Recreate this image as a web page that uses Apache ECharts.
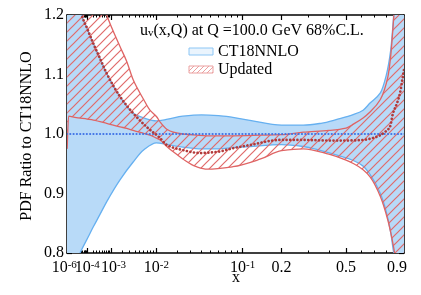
<!DOCTYPE html>
<html><head><meta charset="utf-8">
<script src="https://cdn.jsdelivr.net/npm/echarts@6/dist/echarts.min.js"></script>
<style>html,body{margin:0;padding:0;background:#fff}#c{width:421px;height:295px}</style>
</head><body><div id="c"></div>
<script>
// x axis uses a power scale: t = x^P
const P = 0.28;
const xAxisMin = 5.1e-7, xAxisMax = 0.968;
const xTickValues = [1e-6, 1e-4, 1e-3, 1e-2, 1e-1, 0.2, 0.5, 0.9];
const xTickLabels = ['10^-6', '10^-4', '10^-3', '10^-2', '10^-1', '0.2', '0.5', '0.9'];
const xExtraMajor = [1e-5];
const xMinorTop = [0.3, 0.4, 0.6, 0.7, 0.8];
const yMin = 0.8, yMax = 1.2, yInterval = 0.1;

// CT18NNLO band
const ctX     = [5e-7, 3e-6, 1e-5, 3.2e-5, 4.3e-5, 1e-4, 2.1e-4, 4e-4, 7.2e-4, 1.8e-3, 3.7e-3, 6e-3, 0.01, 0.015, 0.024, 0.04, 0.06, 0.082, 0.115, 0.2, 0.28, 0.36, 0.45, 0.55, 0.615, 0.667, 0.75, 0.8, 0.84, 0.86, 0.88, 0.92, 0.97, 1.0];
const ctUpper = [1.6, 1.45, 1.3, 1.22, 1.2, 1.177, 1.152, 1.128, 1.102, 1.063, 1.035, 1.027, 1.022, 1.025, 1.03, 1.032, 1.031, 1.028, 1.023, 1.015, 1.015, 1.018, 1.025, 1.033, 1.04, 1.052, 1.069, 1.098, 1.14, 1.18, 1.23, 1.35, 1.5, 1.6];
const ctLower = [0.6, 0.68, 0.74, 0.8, 0.806, 0.824, 0.844, 0.864, 0.886, 0.923, 0.953, 0.973, 0.985, 0.982, 0.978, 0.975, 0.975, 0.977, 0.979, 0.982, 0.979, 0.972, 0.964, 0.955, 0.946, 0.932, 0.9, 0.87, 0.835, 0.81, 0.785, 0.7, 0.6, 0.5];
const ctCentralX = [5e-7, 1.0];
const ctCentral  = [1.0, 1.0];

// Updated band
const upX     = [5.5e-7, 1.2e-6, 1e-5, 1e-4, 2.1e-4, 7.2e-4, 1.8e-3, 2.65e-3, 3.7e-3, 6e-3, 0.0078, 0.0101, 0.0115, 0.0145, 0.018, 0.024, 0.035, 0.046, 0.082, 0.14, 0.2, 0.28, 0.4, 0.5, 0.55, 0.615, 0.667, 0.75, 0.815, 0.84, 0.862, 0.88, 0.92, 0.97, 1.0];
const upUpper = [1.8, 1.7, 1.5, 1.33, 1.27, 1.2, 1.147, 1.122, 1.091, 1.058, 1.04, 1.029, 1.02, 1.008, 1.003, 1.0, 0.998, 0.997, 0.997, 0.998, 0.999, 1.003, 1.006, 1.01, 1.017, 1.027, 1.037, 1.058, 1.096, 1.13, 1.18, 1.23, 1.4, 1.6, 1.7];
const upLower = [0.975, 1.03, 1.028, 1.025, 1.0235, 1.018, 1.012, 1.0095, 1.006, 1.001, 0.998, 0.993, 0.99, 0.979, 0.97, 0.958, 0.945, 0.941, 0.945, 0.958, 0.972, 0.975, 0.966, 0.956, 0.95, 0.94, 0.928, 0.895, 0.855, 0.835, 0.815, 0.795, 0.7, 0.6, 0.5];
const upCentralX = [5.5e-7, 1e-5, 4.3e-5, 1e-4, 2.1e-4, 4e-4, 7.2e-4, 1.8e-3, 3.7e-3, 6.8e-3, 0.0115, 0.0145, 0.024, 0.0385, 0.058, 0.082, 0.115, 0.195, 0.28, 0.4, 0.5, 0.615, 0.7, 0.75, 0.8, 0.834, 0.862, 0.9, 0.93, 0.95, 0.97];
const upCentral  = [1.45, 1.27, 1.2, 1.177, 1.152, 1.128, 1.102, 1.063, 1.035, 1.012, 0.993, 0.9815, 0.973, 0.968, 0.970, 0.976, 0.9815, 0.99, 0.99, 0.989, 0.989, 0.99, 0.994, 0.998, 1.005, 1.012, 1.035, 1.052, 1.07, 1.09, 1.11];

const T = x => Math.pow(x, P);

const xMinor = [];
for (let k = -6; k <= -2; k++) for (let m = 2; m <= 9; m++) xMinor.push(m * Math.pow(10, k));
xMinorTop.forEach(v => xMinor.push(v));

const majorT = xTickValues.concat(xExtraMajor).map(T);
const labelT = xTickValues.slice(1).map(T);   // first label drawn separately
const minorT = xMinor.map(T);

const FONT = 'Liberation Serif';
const BLUE_FILL = '#b8daf8', BLUE_EDGE = '#66b0f0', BLUE_DOT = '#3f72e6';
const RED_EDGE = '#df6464', RED_HATCH = '#e06a6a', RED_DOT = '#b23a3a';

function hatch(color, s, w) {
  const c = document.createElement('canvas');
  c.width = s; c.height = s;
  const g = c.getContext('2d');
  g.strokeStyle = color; g.lineWidth = w;
  g.beginPath();
  g.moveTo(-1, s + 1); g.lineTo(s + 1, -1);
  g.moveTo(-1, 1); g.lineTo(1, -1);
  g.moveTo(s - 1, s + 1); g.lineTo(s + 1, s - 1);
  g.stroke();
  return c;
}
const hatchCanvas = hatch(RED_HATCH, 9, 1.2);
const hatchLegend = hatch('#eba0a0', 5, 1);

// monotone cubic (Fritsch-Butland) segments through pixel points
function segments(pts) {
  const n = pts.length, dx = [], m = [], tg = [];
  for (let i = 0; i < n - 1; i++) {
    dx[i] = pts[i + 1][0] - pts[i][0];
    m[i] = (pts[i + 1][1] - pts[i][1]) / dx[i];
  }
  tg[0] = m[0]; tg[n - 1] = m[n - 2];
  for (let i = 1; i < n - 1; i++) {
    if (m[i - 1] * m[i] <= 0) tg[i] = 0;
    else tg[i] = 3 * (dx[i - 1] + dx[i]) / ((2 * dx[i] + dx[i - 1]) / m[i - 1] + (dx[i] + 2 * dx[i - 1]) / m[i]);
  }
  const out = [];
  for (let i = 0; i < n - 1; i++) {
    const h = dx[i] / 3;
    out.push([pts[i], [pts[i][0] + h, pts[i][1] + tg[i] * h], [pts[i + 1][0] - h, pts[i + 1][1] - tg[i + 1] * h], pts[i + 1]]);
  }
  return out;
}
const f = v => v.toFixed(2);
function curvePath(pts) {
  const s = segments(pts);
  let d = 'M' + f(pts[0][0]) + ' ' + f(pts[0][1]);
  s.forEach(q => { d += 'C' + f(q[1][0]) + ' ' + f(q[1][1]) + ' ' + f(q[2][0]) + ' ' + f(q[2][1]) + ' ' + f(q[3][0]) + ' ' + f(q[3][1]); });
  return d;
}
function bandPath(upPts, loPts) {
  let d = curvePath(upPts);
  const s = segments(loPts);
  const last = loPts[loPts.length - 1];
  d += 'L' + f(last[0]) + ' ' + f(last[1]);
  for (let i = s.length - 1; i >= 0; i--) {
    const q = s[i];
    d += 'C' + f(q[2][0]) + ' ' + f(q[2][1]) + ' ' + f(q[1][0]) + ' ' + f(q[1][1]) + ' ' + f(q[0][0]) + ' ' + f(q[0][1]);
  }
  return d + 'Z';
}

function clipRect(params) {
  const c = params.coordSys;
  return { type: 'rect', shape: { x: c.x, y: c.y, width: c.width, height: c.height } };
}

function bandSeries(xs, upper, lower, fill, edgeColor, z) {
  return {
    type: 'custom', coordinateSystem: 'cartesian2d', xAxisIndex: 0, yAxisIndex: 0,
    data: [[T(0.1), 1]], silent: true, z: z, clip: true,
    renderItem: (params, api) => {
      const up = xs.map((x, i) => api.coord([T(x), upper[i]]));
      const lo = xs.map((x, i) => api.coord([T(x), lower[i]]));
      return {
        type: 'group', clipPath: clipRect(params),
        children: [
          { type: 'path', shape: { pathData: bandPath(up, lo) }, style: { fill: fill, stroke: null } },
          { type: 'path', shape: { pathData: curvePath(up) }, style: { fill: null, stroke: edgeColor, lineWidth: 1.3 } },
          { type: 'path', shape: { pathData: curvePath(lo) }, style: { fill: null, stroke: edgeColor, lineWidth: 1.3 } }
        ]
      };
    }
  };
}
function lineSeries(xs, ys, color, width, dash, z) {
  return {
    type: 'custom', coordinateSystem: 'cartesian2d', xAxisIndex: 0, yAxisIndex: 0,
    data: [[T(0.1), 1]], silent: true, z: z, clip: true,
    renderItem: (params, api) => {
      const pts = xs.map((x, i) => api.coord([T(x), ys[i]]));
      return {
        type: 'group', clipPath: clipRect(params),
        children: [{ type: 'path', shape: { pathData: curvePath(pts) }, style: { fill: null, stroke: color, lineWidth: width, lineDash: dash, lineCap: 'round' } }]
      };
    }
  };
}

function richLabel(s, padLeft) {
  if (s.indexOf('^') >= 0) {
    const p = s.split('^');
    return '{' + (padLeft ? 'b3' : 'b') + '|' + p[0] + '}{s|' + p[1] + '}';
  }
  return '{b|' + s + '}';
}
function fmtX(v) {
  let best = 0, bd = Infinity;
  labelT.forEach((t, i) => { const d = Math.abs(t - v); if (d < bd) { bd = d; best = i; } });
  const s = xTickLabels[best + 1];
  return richLabel(s, best + 1 === 2);
}
const RICH = {
  b: { fontFamily: FONT, fontSize: 16, color: '#000', fill: '#000' },
  b3: { fontFamily: FONT, fontSize: 16, color: '#000', fill: '#000', padding: [0, 0, 0, 5] },
  s: { fontFamily: FONT, fontSize: 11, color: '#000', fill: '#000', verticalAlign: 'top' }
};

const xCommon = { type: 'value', min: T(xAxisMin), max: T(xAxisMax), splitLine: { show: false } };
const chart = echarts.init(document.getElementById('c'), null, { renderer: 'canvas' });

const graphics = [
  { id: 'title', type: 'text', x: 140, y: 31, z: 10, style: {
      text: '{n|u}{sub|v}{n|(x,Q) at Q =100.0 GeV 68%C.L.}', verticalAlign: 'middle', align: 'left',
      rich: { n: { fontFamily: FONT, fontSize: 16, fill: '#000' }, sub: { fontFamily: FONT, fontSize: 11, fill: '#000', verticalAlign: 'bottom' } } } },
  { id: 'lg1', type: 'rect', z: 10, shape: { x: 189, y: 48, width: 24, height: 7 }, style: { fill: '#eaf4fd', stroke: '#8cc6f5', lineWidth: 1 } },
  { id: 'lg2', type: 'rect', z: 10, shape: { x: 189, y: 66, width: 24, height: 7 }, style: { fill: { image: hatchLegend, repeat: 'repeat' }, stroke: '#eba0a0', lineWidth: 1 } },
  { id: 'lt1', type: 'text', x: 218, y: 52, z: 10, style: { text: 'CT18NNLO', font: '16px "Liberation Serif"', fill: '#000', verticalAlign: 'middle' } },
  { id: 'lt2', type: 'text', x: 218, y: 70, z: 10, style: { text: 'Updated', font: '16px "Liberation Serif"', fill: '#000', verticalAlign: 'middle' } },
  { id: 'xname', type: 'text', x: 236, y: 278, z: 10, style: { text: 'x', font: '16px "Liberation Serif"', fill: '#000', align: 'center', verticalAlign: 'middle' } },
  { id: 'yname', type: 'text', x: 27, y: 136, rotation: Math.PI / 2, z: 10, style: { text: 'PDF Ratio to CT18NNLO', font: '16px "Liberation Serif"', fill: '#000', align: 'center', verticalAlign: 'middle' } }
];

chart.setOption({
  animation: false,
  grid: { left: 67, right: 17, top: 15, bottom: 42 },
  xAxis: [
    Object.assign({}, xCommon, {
      position: 'bottom',
      axisLine: { show: true, onZero: false, lineStyle: { color: '#000', width: 1.5 } },
      axisTick: { show: true, inside: true, length: 5, customValues: majorT, lineStyle: { color: '#000', width: 1.2 } },
      axisLabel: {
        customValues: labelT, formatter: fmtX, margin: 7, color: '#000', hideOverlap: false,
        fontFamily: FONT, fontSize: 16, rich: RICH
      }
    }),
    Object.assign({}, xCommon, {
      position: 'bottom',
      axisLine: { show: false, onZero: false },
      axisTick: { show: true, inside: true, length: 2.5, customValues: minorT, lineStyle: { color: '#000', width: 1 } },
      axisLabel: { show: false }
    }),
    Object.assign({}, xCommon, {
      position: 'top',
      axisLine: { show: true, onZero: false, lineStyle: { color: '#000', width: 1.5 } },
      axisTick: { show: true, inside: true, length: 5, customValues: majorT, lineStyle: { color: '#000', width: 1.2 } },
      axisLabel: { show: false }
    }),
    Object.assign({}, xCommon, {
      position: 'top',
      axisLine: { show: false, onZero: false },
      axisTick: { show: true, inside: true, length: 2.5, customValues: minorT, lineStyle: { color: '#000', width: 1 } },
      axisLabel: { show: false }
    })
  ],
  yAxis: [
    {
      type: 'value', min: yMin, max: yMax, interval: yInterval, position: 'left',
      axisLine: { show: true, onZero: false, lineStyle: { color: '#000', width: 1.5 } },
      axisTick: { show: true, inside: true, length: 5, lineStyle: { color: '#000', width: 1.2 } },
      minorTick: { show: true, splitNumber: 5, length: 3, lineStyle: { color: '#000', width: 1 } },
      splitLine: { show: false },
      axisLabel: { color: '#000', fontFamily: FONT, fontSize: 16, margin: 3, formatter: v => v.toFixed(1) }
    },
    {
      type: 'value', min: yMin, max: yMax, interval: yInterval, position: 'right',
      axisLine: { show: true, onZero: false, lineStyle: { color: '#000', width: 1.5 } },
      axisTick: { show: true, inside: true, length: 5, lineStyle: { color: '#000', width: 1.2 } },
      minorTick: { show: true, splitNumber: 5, length: 3, lineStyle: { color: '#000', width: 1 } },
      splitLine: { show: false },
      axisLabel: { show: false }
    }
  ],
  series: [
    bandSeries(ctX, ctUpper, ctLower, BLUE_FILL, BLUE_EDGE, 2),
    bandSeries(upX, upUpper, upLower, { image: hatchCanvas, repeat: 'repeat' }, RED_EDGE, 3),
    lineSeries(ctCentralX, ctCentral, BLUE_DOT, 2.2, [0.01, 3.3], 4),
    lineSeries(upCentralX, upCentral, RED_DOT, 2.7, [0.01, 3.6], 5)
  ],
  graphic: graphics
});

// first x tick label, placed through the axis scale
const p6 = chart.convertToPixel({ xAxisIndex: 0 }, T(xTickValues[0]));
const pBottom = chart.convertToPixel({ yAxisIndex: 0 }, yMin);
chart.setOption({
  graphic: [{ id: 'xl6', type: 'text', x: p6 - 4, y: pBottom + 7, z: 10,
    style: { text: richLabel(xTickLabels[0], false), rich: RICH, align: 'center', verticalAlign: 'top' } }]
});
</script></body></html>
